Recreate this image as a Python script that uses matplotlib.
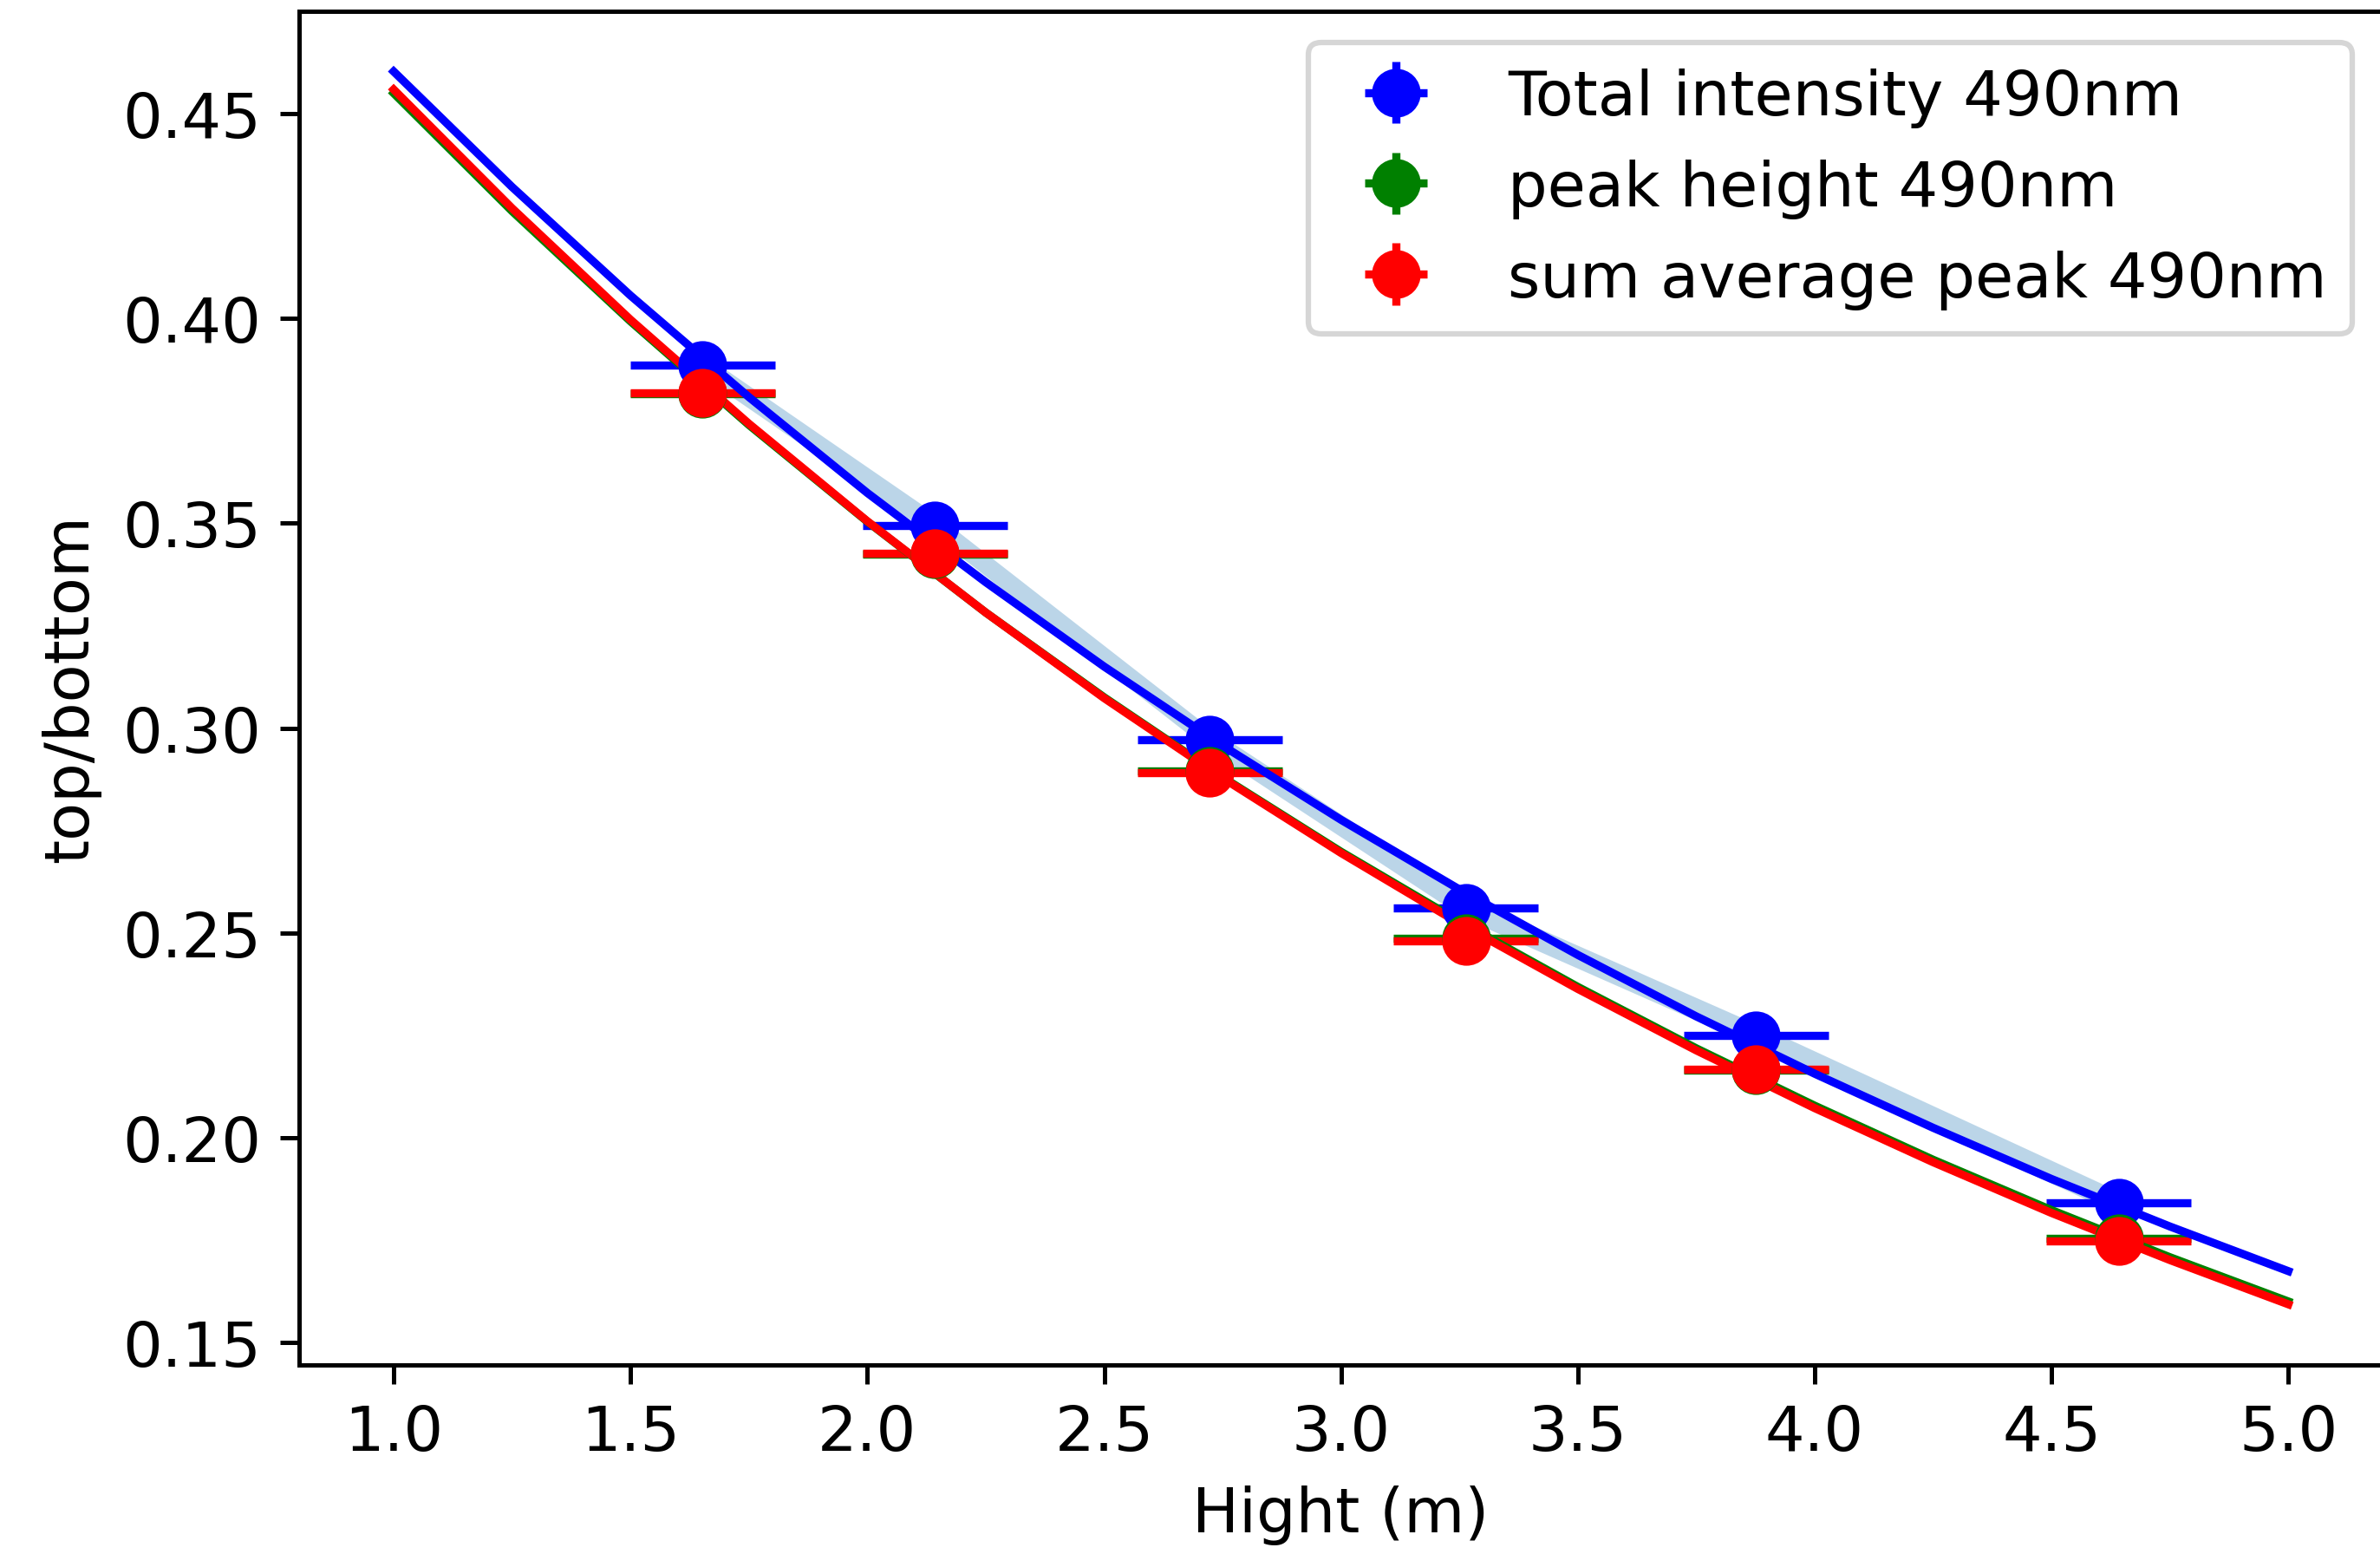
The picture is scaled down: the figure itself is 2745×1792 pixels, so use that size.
import matplotlib
matplotlib.use("Agg")
import matplotlib.pyplot as plt

plt.rcParams["font.size"] = 11.5

# measured points (height in m, top/bottom ratio)
hight = [1.652, 2.143, 2.723, 3.264, 3.876, 4.642]
x_err = [0.153, 0.153, 0.153, 0.153, 0.153, 0.153]

total_490 = [0.3886, 0.3495, 0.2972, 0.2561, 0.2249, 0.1840]
peak_490 = [0.3816, 0.3424, 0.2896, 0.2486, 0.2164, 0.1755]
sum_avg_490 = [0.3818, 0.3426, 0.2890, 0.2480, 0.2166, 0.1748]
y_err = [0.002, 0.002, 0.002, 0.002, 0.002, 0.002]

# band around the total intensity points
band_half = [0.0028, 0.0028, 0.0028, 0.0028, 0.0028, 0.0028]

fit_x = [1.0, 1.25, 1.5, 1.75, 2.0, 2.25, 2.5, 2.75, 3.0,
         3.25, 3.5, 3.75, 4.0, 4.25, 4.5, 4.75, 5.0]
fit_total = [0.4603, 0.4321, 0.4056, 0.3808, 0.3574, 0.3356, 0.3150, 0.2957, 0.2776,
             0.2606, 0.2446, 0.2296, 0.2156, 0.2024, 0.1899, 0.1783, 0.1674]
fit_peak = [0.4550, 0.4262, 0.3993, 0.3740, 0.3504, 0.3282, 0.3075, 0.2880, 0.2698,
            0.2528, 0.2368, 0.2218, 0.2078, 0.1946, 0.1823, 0.1708, 0.1600]
fit_sum = [0.4559, 0.4269, 0.3997, 0.3743, 0.3505, 0.3282, 0.3073, 0.2878, 0.2695,
           0.2523, 0.2363, 0.2213, 0.2072, 0.1940, 0.1816, 0.1701, 0.1593]

fig = plt.figure(figsize=(6.1, 3.9844), dpi=450)
ax = fig.add_axes([0.1256, 0.1216, 0.8757, 0.8706])

lower = [y - h for y, h in zip(total_490, band_half)]
upper = [y + h for y, h in zip(total_490, band_half)]
ax.fill_between(hight, lower, upper, alpha=0.3)

ax.errorbar(hight, total_490, xerr=x_err, yerr=y_err, fmt="o", color="blue",
            ms=8, label="Total intensity 490nm")
ax.errorbar(hight, peak_490, xerr=x_err, yerr=y_err, fmt="o", color="green",
            ms=8, label="peak height 490nm")
ax.errorbar(hight, sum_avg_490, xerr=x_err, yerr=y_err, fmt="o", color="red",
            ms=8, label="sum average peak 490nm")

ax.plot(fit_x, fit_total, color="blue", lw=1.5)
ax.plot(fit_x, fit_peak, color="green", lw=1.5)
ax.plot(fit_x, fit_sum, color="red", lw=1.5)

ax.set_xlim(0.8, 5.2)
ax.set_ylim(0.1445, 0.4750)
ax.set_xlabel("Hight (m)")
ax.set_ylabel("top/bottom")
ax.legend(loc="upper right")

fig.savefig("out.png", dpi=450)
